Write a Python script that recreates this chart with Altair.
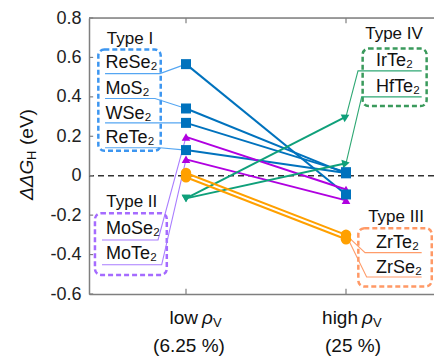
import altair as alt
import pandas as pd
import math

FONT = "Liberation Sans"

# ---------------- data ----------------
names = ["ReSe₂", "MoS₂", "WSe₂", "ReTe₂", "MoSe₂", "MoTe₂", "IrTe₂", "HfTe₂", "ZrTe₂", "ZrSe₂"]
groups = ["I", "I", "I", "I", "II", "II", "IV", "IV", "III", "III"]
low_vals = [0.566, 0.341, 0.268, 0.130, 0.197, 0.083, -0.115, -0.115, 0.014, -0.008]
high_vals = [-0.095, 0.012, 0.018, 0.014, -0.070, -0.125, 0.300, 0.063, -0.300, -0.322]

group_names = ["I", "II", "III", "IV"]
line_colors = ["#0072BD", "#B000E0", "#FFA000", "#0FA07A"]
box_colors = ["#3D96F0", "#A56BFF", "#FF9966", "#3A9A5C"]
leader_colors = ["#55A6F2", "#A97DFF", "#FF9C6A", "#2FA874"]
shape_low = {"I": "square", "II": "triangle-up", "III": "circle", "IV": "triangle-down"}
shape_high = {"I": "square", "II": "triangle-up", "III": "circle", "IV": "triangle-right"}

y_ticks = [-0.6, -0.4, -0.2, 0.0, 0.2, 0.4, 0.6, 0.8]
x_ticks = [0, 1]
x_domain = [-0.60625, 1.55]
y_domain = [-0.6, 0.8]

# annotation layout (data units)
lab_tx = [-0.503, -0.503, -0.503, -0.503, -0.50, -0.50, 1.1875, 1.1875, 1.1875, 1.1875]
lab_base = [0.545, 0.414, 0.288, 0.166, -0.295, -0.423, 0.557, 0.425, -0.368, -0.491]
lab_uy = [0.518, 0.392, 0.268, 0.142, -0.326, -0.452, 0.532, 0.400, -0.390, -0.514]
lab_ux0 = [-0.506, -0.506, -0.506, -0.506, -0.525, -0.525, 1.473, 1.473, 1.473, 1.473]
lab_ux1 = [-0.163, -0.194, -0.160, -0.163, -0.175, -0.152, 1.075, 1.098, 1.119, 1.129]
lab_target_x = [0, 0, 0, 0, 0, 0, 1, 1, 1, 1]
lab_target_y = [0.566, 0.341, 0.268, 0.130, 0.197, 0.083, 0.300, 0.063, -0.300, -0.300]

box_x = [-0.548, -0.569, 1.077, 1.104]
box_x2 = [-0.158, -0.120, 1.536, 1.504]
box_y = [0.640, -0.190, -0.266, 0.645]
box_y2 = [0.127, -0.503, -0.562, 0.353]
title_text = ["Type I", "Type II", "Type III", "Type IV"]
title_x = [-0.35, -0.339, 1.3125, 1.30]
title_y = [0.670, -0.160, -0.236, 0.692]

# ---------------- tables ----------------
gcol = dict(zip(group_names, line_colors))
bcol = dict(zip(group_names, box_colors))
lcol = dict(zip(group_names, leader_colors))

rows = []
for n, g, lo, hi in zip(names, groups, low_vals, high_vals):
    rows.append({"name": n, "group": g, "x": 0, "y": lo, "shape": shape_low[g], "col": gcol[g],
                 "ang": 0})
    ang = 0
    if g == "IV":
        dxp = 160.0
        dyp = (hi - lo) * 197.14
        ang = (-math.degrees(math.atan2(dyp, dxp))) % 360
    rows.append({"name": n, "group": g, "x": 1, "y": hi, "shape": shape_high[g], "col": gcol[g],
                 "ang": ang})
df = pd.DataFrame(rows)

leaders = []
for i, (n, g) in enumerate(zip(names, groups)):
    pts = [(lab_ux0[i], lab_uy[i]), (lab_ux1[i], lab_uy[i]), (lab_target_x[i], lab_target_y[i])]
    for k, (xx, yy) in enumerate(pts):
        leaders.append({"name": n, "k": k, "x": xx, "y": yy, "col": lcol[g]})
df_lead = pd.DataFrame(leaders)

df_lab = pd.DataFrame({"text": names, "x": lab_tx, "y": lab_base})
df_box = pd.DataFrame({"x": box_x, "x2": box_x2, "y": box_y, "y2": box_y2,
                       "col": box_colors})
df_title = pd.DataFrame({"text": title_text, "x": title_x, "y": title_y})

xs = alt.Scale(domain=x_domain, nice=False, zero=False)
ys = alt.Scale(domain=y_domain, nice=False, zero=False)

y_axis = alt.Axis(values=y_ticks, ticks=False, grid=False, domainColor="#7f7f7f", domainWidth=1.5,
                  labelFont=FONT, labelFontSize=18, labelColor="#222222", labelPadding=8,
                  labelExpr="datum.value == 0 ? '0' : (datum.value < 0 ? '-' : '') + format(abs(datum.value), '.1f')",
                  title=None)
x_axis = alt.Axis(labels=False, ticks=False, grid=False, domainColor="#7f7f7f", domainWidth=1.5,
                  title=None)

base_enc = dict(x=alt.X("x:Q", scale=xs, axis=x_axis), y=alt.Y("y:Q", scale=ys, axis=y_axis))

# frame top line + ticks
top_line = alt.Chart(pd.DataFrame({"y": [y_domain[1]]})).mark_rule(
    color="#7f7f7f", strokeWidth=1.5).encode(y=alt.Y("y:Q", scale=ys, axis=y_axis))

df_lt = pd.DataFrame({"x": [x_domain[0]] * len(y_ticks), "x2": [x_domain[0] + 0.026] * len(y_ticks),
                      "y": y_ticks})
left_ticks = alt.Chart(df_lt).mark_rule(color="#7f7f7f", strokeWidth=1.2).encode(
    x=alt.X("x:Q", scale=xs, axis=x_axis), x2="x2:Q", y=alt.Y("y:Q", scale=ys, axis=y_axis))
df_bt = pd.DataFrame({"x": x_ticks * 2,
                      "y": [y_domain[0]] * 2 + [y_domain[1]] * 2,
                      "y2": [y_domain[0] + 0.026] * 2 + [y_domain[1] - 0.026] * 2})
bt_ticks = alt.Chart(df_bt).mark_rule(color="#7f7f7f", strokeWidth=1.2).encode(
    x=alt.X("x:Q", scale=xs, axis=x_axis), y=alt.Y("y:Q", scale=ys, axis=y_axis), y2="y2:Q")

zero_line = alt.Chart(pd.DataFrame({"y": [0.0]})).mark_rule(
    color="#333333", strokeWidth=1.5, strokeDash=[6, 4]).encode(y=alt.Y("y:Q", scale=ys, axis=y_axis))

boxes = alt.Chart(df_box).mark_rect(filled=False, strokeWidth=2.5, strokeDash=[5, 3],
                                    cornerRadius=6).encode(
    x=alt.X("x:Q", scale=xs, axis=x_axis), x2="x2:Q",
    y=alt.Y("y:Q", scale=ys, axis=y_axis), y2="y2:Q",
    color=alt.Color("col:N", scale=None))

titles = alt.Chart(df_title).mark_text(font=FONT, fontSize=17, align="center",
                                       baseline="alphabetic", color="#111111").encode(
    **base_enc, text="text:N")

labels = alt.Chart(df_lab).mark_text(font=FONT, fontSize=18, align="left",
                                     baseline="alphabetic", color="#111111").encode(
    **base_enc, text="text:N")

lead_lines = alt.Chart(df_lead).mark_line(strokeWidth=1.1).encode(
    **base_enc, detail="name:N", order="k:Q", color=alt.Color("col:N", scale=None))

data_lines = alt.Chart(df).mark_line(strokeWidth=2).encode(
    **base_enc, detail="name:N", order="x:Q", color=alt.Color("col:N", scale=None))

pts_sq = alt.Chart(df).transform_filter("datum.group == 'I'").mark_point(
    filled=True, opacity=1, size=100).encode(
    **base_enc, shape=alt.Shape("shape:N", scale=None), color=alt.Color("col:N", scale=None))
pts_tri = alt.Chart(df).transform_filter("datum.group == 'II' || datum.group == 'IV'").mark_point(
    filled=True, opacity=1, size=75).encode(
    **base_enc, shape=alt.Shape("shape:N", scale=None), color=alt.Color("col:N", scale=None),
    angle=alt.Angle("ang:Q", scale=None))
pts_circ = alt.Chart(df).transform_filter("datum.group == 'III'").mark_point(
    filled=True, opacity=1, size=110).encode(
    **base_enc, shape=alt.Shape("shape:N", scale=None), color=alt.Color("col:N", scale=None))

# x category labels (drawn as text for the subscript)
cat_x = [0, 1]
cat_word = ["low", "high"]
cat_pct = ["(6.25 %)", "(25 %)"]
cat_pct_dx = [3, 7]
y_line1 = -0.7205
y_line2 = -0.862

df_cat = pd.DataFrame({"x": cat_x, "word": cat_word, "pct": cat_pct, "y1": [y_line1] * 2,
                       "y2": [y_line2] * 2, "rho": ["ρ", "ρ"], "sub": ["V", "V"]})
enc1 = dict(x=alt.X("x:Q", scale=xs, axis=x_axis), y=alt.Y("y1:Q", scale=ys, axis=y_axis))
cat_word_l = alt.Chart(df_cat).mark_text(font=FONT, fontSize=19, align="right", baseline="middle",
                                         dx=12, color="#111111").encode(**enc1, text="word:N")
cat_rho_l = alt.Chart(df_cat).mark_text(font=FONT, fontSize=19, align="left", baseline="middle",
                                        fontStyle="italic", dx=16, color="#111111").encode(**enc1, text="rho:N")
cat_sub_l = alt.Chart(df_cat).mark_text(font=FONT, fontSize=13, align="left", baseline="middle",
                                        dx=27, dy=5, color="#111111").encode(**enc1, text="sub:N")
cat_pct_layers = []
for i in range(2):
    cat_pct_layers.append(
        alt.Chart(df_cat.iloc[[i]]).mark_text(font=FONT, fontSize=19, align="center", baseline="middle",
                                              dx=cat_pct_dx[i], color="#111111").encode(
            x=alt.X("x:Q", scale=xs, axis=x_axis), y=alt.Y("y2:Q", scale=ys, axis=y_axis), text="pct:N"))

# y title: ΔΔG_H (eV)
df_yt = pd.DataFrame({"x": [-0.994], "y": [-0.123], "a": ["ΔΔG"], "b": ["H"], "c": ["(eV)"]})
ytA = alt.Chart(df_yt).mark_text(font=FONT, fontSize=19, fontStyle="italic", angle=270, align="left",
                                 baseline="middle", color="#111111").encode(**base_enc, text="a:N")
ytB = alt.Chart(df_yt).mark_text(font=FONT, fontSize=13, angle=270, align="left",
                                 baseline="middle", dx=40, dy=5, color="#111111").encode(**base_enc, text="b:N")
ytC = alt.Chart(df_yt).mark_text(font=FONT, fontSize=19, angle=270, align="left",
                                 baseline="middle", dx=55, color="#111111").encode(**base_enc, text="c:N")

chart = alt.layer(
    zero_line, top_line, left_ticks, bt_ticks, boxes, lead_lines, data_lines,
    pts_circ, pts_tri, pts_sq, titles, labels,
    cat_word_l, cat_rho_l, cat_sub_l, *cat_pct_layers, ytA, ytB, ytC
).properties(
    width=345, height=276,
    autosize=alt.AutoSizeParams(type="none"),
    padding={"left": 89, "top": 18, "right": 0, "bottom": 62}
).configure_view(stroke=None).configure(background="white")

chart.save("out.html", embed_options={"renderer": "svg", "actions": False})
